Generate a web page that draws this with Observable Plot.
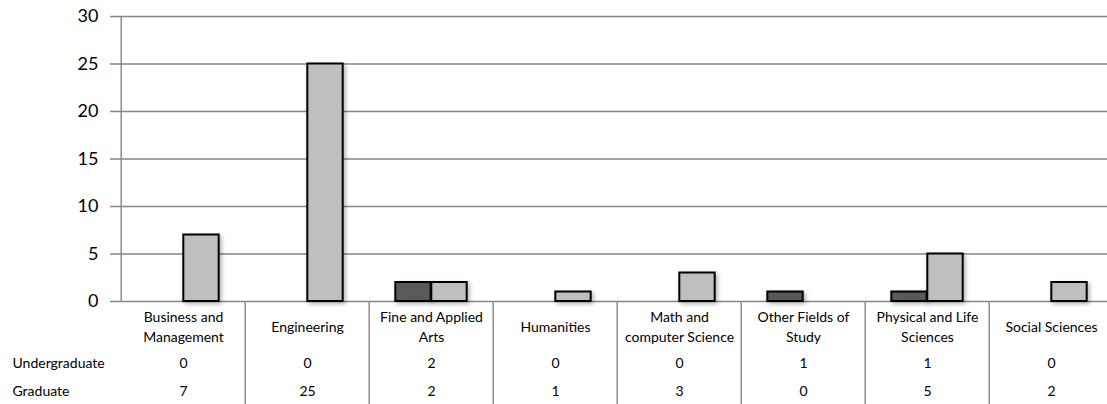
<!DOCTYPE html>
<html>
<head>
<meta charset="utf-8">
<script src="https://cdn.jsdelivr.net/npm/d3@7"></script>
<script src="https://cdn.jsdelivr.net/npm/@observablehq/plot@0.6"></script>
<style>
  html, body { margin: 0; padding: 0; background: #fff; overflow: hidden; }
</style>
</head>
<body>
<div id="chart"></div>
<script>
const categories = [
  "Business and\nManagement",
  "Engineering",
  "Fine and Applied\nArts",
  "Humanities",
  "Math and\ncomputer Science",
  "Other Fields of\nStudy",
  "Physical and Life\nSciences",
  "Social Sciences"
];
const undergraduate = [0, 0, 2, 0, 0, 1, 1, 0];
const graduate = [7, 25, 2, 1, 3, 0, 5, 2];
const yTicks = [0, 5, 10, 15, 20, 25, 30];
const rowLabels = ["Undergraduate", "Graduate"];

const ugData = categories.map((c, i) => ({category: c, value: undergraduate[i]}));
const grData = categories.map((c, i) => ({category: c, value: graduate[i]}));

const W = 1115, H = 404;
const mL = 118, mR = 0, mT = 16, mB = 103;
const band = (W - mL - mR) / categories.length;
const barW = 36;
const inset = (band - barW) / 2;
const grid = "#868686";

const plot = Plot.plot({
  width: W,
  height: H,
  marginLeft: mL,
  marginRight: mR,
  marginTop: mT,
  marginBottom: mB,
  style: {fontFamily: "Lato, 'Open Sans', sans-serif", fontSize: "14px", color: "#000", background: "#fff", maxWidth: "none"},
  x: {domain: categories, padding: 0, axis: null},
  y: {domain: [0, 30], axis: null},
  marks: [
    Plot.ruleY(yTicks, {stroke: grid, strokeWidth: 1.4, insetLeft: -8}),
    Plot.ruleX([categories[0]], {x: d => d, dx: -band / 2, y1: () => 0, y2: () => 30, stroke: grid, strokeWidth: 1.4}),
    Plot.ruleX(categories.slice(1), {x: d => d, dx: -band / 2, y1: () => 0, y2: () => -11, stroke: grid, strokeWidth: 1.4}),
    Plot.barY(ugData.filter(d => d.value > 0), {x: "category", y: "value", dx: -barW / 2, insetLeft: inset, insetRight: inset, fill: "#595959", stroke: "#000", strokeWidth: 2}),
    Plot.barY(grData.filter(d => d.value > 0), {x: "category", y: "value", dx: barW / 2, insetLeft: inset, insetRight: inset, fill: "#bfbfbf", stroke: "#000", strokeWidth: 2}),
    Plot.axisY(yTicks, {tickSize: 0, tickPadding: 20, fontSize: 18, fill: "#000", anchor: "left", label: null}),
    Plot.text(categories, {x: d => d, y: () => 0, dy: 24, text: d => d, lineAnchor: "middle", lineHeight: 1.45, fill: "#000"}),
    Plot.text(categories, {x: d => d, y: () => 0, dy: 62, text: (d, i) => String(undergraduate[i]), fill: "#000"}),
    Plot.text(categories, {x: d => d, y: () => 0, dy: 90, text: (d, i) => String(graduate[i]), fill: "#000"}),
    Plot.text([rowLabels[0]], {frameAnchor: "left", y: () => 0, dy: 62, dx: -106, textAnchor: "start", fill: "#000"}),
    Plot.text([rowLabels[1]], {frameAnchor: "left", y: () => 0, dy: 90, dx: -106, textAnchor: "start", fill: "#000"})
  ]
});

d3.select(plot).selectAll('g[aria-label="bar"]').style("filter", "drop-shadow(2px 2px 2px rgba(0,0,0,0.3))");
document.getElementById("chart").appendChild(plot);
</script>
</body>
</html>
